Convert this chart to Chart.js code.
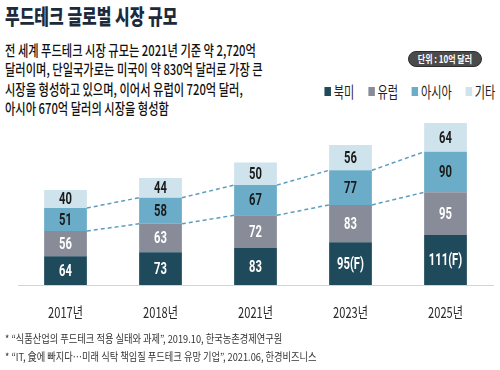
<!DOCTYPE html>
<html>
<head>
<meta charset="utf-8">
<script src="https://cdn.jsdelivr.net/npm/chart.js@4.4.0/dist/chart.umd.min.js"></script>
<style>
  body { margin: 0; width: 500px; height: 370px; background: #fff; position: relative; overflow: hidden;
         font-family: "Noto Sans CJK KR", sans-serif; }
  .abs { position: absolute; white-space: nowrap; }
  #title { left: 5px; top: 0px; font-size: 21px; font-weight: 900; color: #1b2b3b; line-height: 30px;
           transform: scaleX(0.76); transform-origin: 0 0; }
  #intro { left: 5px; top: 40px; font-size: 15px; font-weight: 500; color: #111; line-height: 19.3px;
           transform: scaleX(0.75); transform-origin: 0 0; }
  #unit { left: 408px; top: 51px; width: 72px; height: 14px; border-radius: 8px; background: #4b4b4b;
          border: 1px solid #2e2e2e; color: #fff; font-size: 10px; font-weight: 700; line-height: 14px; text-align: center; }
  #unit span { display: inline-block; transform: scaleX(0.8); }
  #legend { right: 5px; top: 82px; display: flex; gap: 19px; align-items: center; font-size: 15.5px; color: #222;
            transform: scaleX(0.72); transform-origin: 100% 50%; line-height: 18px; }
  #legend .item { display: flex; align-items: center; gap: 4px; }
  #legend .sw { width: 9px; height: 9px; display: inline-block; }
  #notes { left: 5px; top: 329px; font-size: 11px; color: #333; line-height: 18px;
           transform: scaleX(0.84); transform-origin: 0 0; }
  #chart { position: absolute; left: 0; top: 100px; }
</style>
</head>
<body>
<div id="title" class="abs">푸드테크 글로벌 시장 규모</div>
<div id="intro" class="abs">전 세계 푸드테크 시장 규모는 2021년 기준 약 2,720억<br>달러이며, 단일국가로는 미국이 약 830억 달러로 가장 큰<br>시장을 형성하고 있으며, 이어서 유럽이 720억 달러,<br>아시아 670억 달러의 시장을 형성함</div>
<div id="unit" class="abs"><span>단위 : 10억 달러</span></div>
<div id="legend" class="abs"></div>
<canvas id="chart" width="500" height="230"></canvas>
<div id="notes" class="abs">* “식품산업의 푸드테크 적용 실태와  과제”, 2019.10, 한국농촌경제연구원<br>* “IT, 食에 빠지다…미래 식탁 책임질 푸드테크 유망 기업”, 2021.06, 한경비즈니스</div>
<script>
const years = ["2017년", "2018년", "2021년", "2023년", "2025년"];
const seriesNames = ["북미", "유럽", "아시아", "기타"];
const northAmerica = [64, 73, 83, 95, 111];
const europe = [56, 63, 72, 83, 95];
const asia = [51, 58, 67, 77, 90];
const others = [40, 44, 50, 56, 64];
const forecast = [false, false, false, true, true];

const seriesColors = ["#1f4a5c", "#888c99", "#6badc8", "#cfe3ec"];
const labelColors = ["#ffffff", "#ffffff", "#1a1a1a", "#1a1a1a"];

// legend built from the same series lists
const legendEl = document.getElementById("legend");
seriesNames.forEach((name, i) => {
  const item = document.createElement("div");
  item.className = "item";
  item.innerHTML = '<span class="sw" style="background:' + seriesColors[i] + '"></span><span>' + name + '</span>';
  legendEl.appendChild(item);
});

function condensedText(ctx, text, x, y, sx) {
  ctx.save();
  ctx.translate(x, y);
  ctx.scale(sx, 1);
  ctx.fillText(text, 0, 0);
  ctx.restore();
}

const overlayPlugin = {
  id: "overlay",
  afterDatasetsDraw(chart) {
    const ctx = chart.ctx;
    // dashed connectors on top of 유럽 and 아시아 segments
    ctx.save();
    ctx.strokeStyle = "#5d9ebf";
    ctx.lineWidth = 1.5;
    ctx.setLineDash([4, 3]);
    [1, 2].forEach(di => {
      const els = chart.getDatasetMeta(di).data;
      for (let j = 0; j < els.length - 1; j++) {
        const a = els[j], b = els[j + 1];
        ctx.beginPath();
        ctx.moveTo(a.x + a.width / 2, a.y);
        ctx.lineTo(b.x - b.width / 2, b.y);
        ctx.stroke();
      }
    });
    ctx.restore();

    // value labels
    ctx.save();
    ctx.textAlign = "center";
    ctx.textBaseline = "middle";
    ctx.font = "bold 17px Roboto";
    chart.data.datasets.forEach((ds, di) => {
      chart.getDatasetMeta(di).data.forEach((el, j) => {
        let txt = String(ds.data[j]);
        if (di === 0 && forecast[j]) txt += "(F)";
        ctx.fillStyle = labelColors[di];
        condensedText(ctx, txt, el.x, (el.y + el.base) / 2 + 1, 0.66);
      });
    });

    // category labels
    const xs = chart.scales.x;
    ctx.fillStyle = "#2a2a2a";
    ctx.font = "15px 'Noto Sans CJK KR'";
    years.forEach((y, i) => {
      condensedText(ctx, y, xs.getPixelForValue(i), chart.chartArea.bottom + 27, 0.74);
    });
    ctx.restore();
  }
};

const datasets = [northAmerica, europe, asia, others].map((vals, i) => ({
  label: seriesNames[i],
  data: vals,
  backgroundColor: seriesColors[i],
  borderWidth: 0,
  barPercentage: 0.45,
  categoryPercentage: 1
}));

new Chart(document.getElementById("chart").getContext("2d"), {
  type: "bar",
  data: { labels: years, datasets: datasets },
  options: {
    responsive: false,
    animation: false,
    devicePixelRatio: 1,
    layout: { padding: { left: 18, right: 7, top: 5, bottom: 45 } },
    scales: {
      x: {
        stacked: true,
        grid: { display: false, drawTicks: false },
        border: { display: true, color: "#d4d4d4", width: 1 },
        ticks: { display: false }
      },
      y: { stacked: true, display: false, min: 0, max: 400 }
    },
    plugins: { legend: { display: false }, tooltip: { enabled: false } }
  },
  plugins: [overlayPlugin]
});
</script>
</body>
</html>
